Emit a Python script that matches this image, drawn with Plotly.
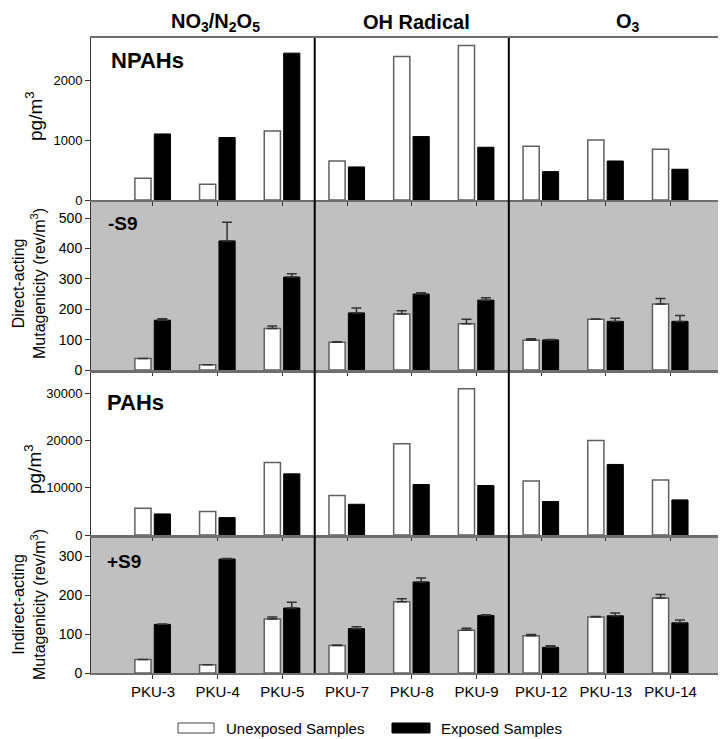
import numpy as np
import plotly.graph_objects as go

# ---------------- data ----------------
categories = ["PKU-3", "PKU-4", "PKU-5", "PKU-7", "PKU-8", "PKU-9", "PKU-12", "PKU-13", "PKU-14"]
groups = ["NO<sub>3</sub>/N<sub>2</sub>O<sub>5</sub>", "OH Radical", "O<sub>3</sub>"]

npah_unexposed = [365, 264, 1160, 655, 2410, 2595, 902, 1008, 852]
npah_exposed = [1109, 1049, 2466, 555, 1065, 886, 477, 655, 516]

direct_unexposed = [38, 17, 137, 91, 184, 152, 98, 167, 217]
direct_unexposed_err = [0, 0, 8, 2, 11, 15, 5, 1, 18]
direct_exposed = [164, 425, 306, 188, 250, 230, 99, 160, 160]
direct_exposed_err = [5, 61, 11, 16, 4, 8, 1, 10, 19]

pah_unexposed = [5680, 4980, 15400, 8380, 19360, 31060, 11490, 20090, 11700]
pah_exposed = [4470, 3700, 12980, 6530, 10720, 10510, 7100, 14980, 7450]

indirect_unexposed = [35, 21, 139, 71, 183, 110, 96, 144, 193]
indirect_unexposed_err = [0, 0, 5, 1, 8, 5, 3, 1, 9]
indirect_exposed = [125, 293, 167, 114, 234, 148, 66, 147, 129]
indirect_exposed_err = [1, 1, 15, 5, 10, 2, 4, 7, 7]

npah_ticks = [0, 1000, 2000]
direct_ticks = [0, 100, 200, 300, 400, 500]
pah_ticks = [0, 10000, 20000, 30000]
indirect_ticks = [0, 100, 200, 300]

series_names = ["Unexposed Samples", "Exposed Samples"]

# ---------------- layout helpers ----------------
W, H = 726, 739
L, R, T, B = 83, 723, 30, 665  # plot area in pixels
PH = B - T


def py(p):  # pixel y -> paper y
    return (B - p) / PH


def px(p):  # pixel x -> paper x
    return (p - L) / (R - L)


FONT = "Liberation Sans, Arial, sans-serif"
NARROW = "Liberation Sans Narrow, Arial Narrow, Liberation Sans, Arial, sans-serif"

idx = np.arange(len(categories))
xw = idx - 0.155
xb = idx + 0.145
BW = 0.25

panels = [
    dict(u=npah_unexposed, e=npah_exposed, ue=None, ee=None, dom=(py(192), py(30)), rng=[0, 2720],
         tv=npah_ticks, font=NARROW, tfs=13),
    dict(u=direct_unexposed, e=direct_exposed, ue=direct_unexposed_err, ee=direct_exposed_err,
         dom=(py(362), py(194)), rng=[0, 553], tv=direct_ticks, font=FONT, tfs=14),
    dict(u=pah_unexposed, e=pah_exposed, ue=None, ee=None, dom=(py(527), py(365)), rng=[0, 34400],
         tv=pah_ticks, font=NARROW, tfs=13),
    dict(u=indirect_unexposed, e=indirect_exposed, ue=indirect_unexposed_err, ee=indirect_exposed_err,
         dom=(py(665), py(530)), rng=[0, 347], tv=indirect_ticks, font=FONT, tfs=14),
]

fig = go.Figure()
layout = dict(
    width=W, height=H,
    margin=dict(l=L, r=W - R, t=T, b=H - B),
    plot_bgcolor="white", paper_bgcolor="white",
    barmode="overlay", showlegend=False,
    font=dict(family=FONT, color="black", size=14),
)
shapes = []
annotations = []

for k, p in enumerate(panels):
    n = k + 1
    xa = "x" if n == 1 else f"x{n}"
    ya = "y" if n == 1 else f"y{n}"

    def err(e):
        if e is None:
            return None
        return dict(type="data", symmetric=False, array=e, arrayminus=[0] * len(e),
                    color="#333333", thickness=1.5, width=5)

    fig.add_trace(go.Bar(x=xw, y=p["u"], width=BW, xaxis=xa, yaxis=ya, name=series_names[0],
                         marker=dict(color="white", line=dict(color="#606060", width=1.5)),
                         error_y=err(p["ue"])))
    fig.add_trace(go.Bar(x=xb, y=p["e"], width=BW, xaxis=xa, yaxis=ya, name=series_names[1],
                         marker=dict(color="black", line=dict(color="black", width=1)),
                         error_y=err(p["ee"])))
    xkey = "xaxis" if n == 1 else f"xaxis{n}"
    ykey = "yaxis" if n == 1 else f"yaxis{n}"
    layout[xkey] = dict(
        domain=[0, 1], anchor=ya, range=[-0.958, 8.934],
        tickmode="array", tickvals=idx, ticktext=categories,
        showticklabels=(n == 4), ticks="outside", ticklen=4, tickcolor="#333",
        showline=True, mirror=True, linecolor="#6e6e6e", linewidth=2,
        showgrid=False, zeroline=False,
        tickfont=dict(family=FONT, size=15, color="black"),
    )
    if n > 1:
        layout[xkey]["matches"] = "x"
    layout[ykey] = dict(
        domain=list(p["dom"]), anchor=xa, range=p["rng"],
        tickmode="array", tickvals=p["tv"], ticktext=[str(v) for v in p["tv"]],
        ticks="outside", ticklen=5, tickcolor="#333",
        showline=True, mirror=True, linecolor="#333333", linewidth=1,
        showgrid=False, zeroline=False,
        tickfont=dict(family=p["font"], size=p["tfs"], color="black"),
    )
    if n in (2, 4):
        shapes.append(dict(type="rect", xref=f"{xa} domain", yref=f"{ya} domain",
                           x0=0, x1=1, y0=0, y1=1, fillcolor="#c0c0c0",
                           line=dict(width=0), layer="below"))

# dividers between the three oxidant groups
for xd in (2.5, 5.5):
    shapes.append(dict(type="line", xref="x", yref="paper", x0=xd, x1=xd, y0=0, y1=1,
                       line=dict(color="black", width=2)))

# group titles
for g, cx in zip(groups, (207, 408, 620)):
    annotations.append(dict(text=f"<b>{g}</b>", xref="paper", yref="paper", x=px(cx), y=py(14),
                            xanchor="center", yanchor="middle", showarrow=False,
                            font=dict(family=NARROW, size=20, color="black")))

# panel labels
for txt, lx, ly, fam, fs in [("NPAHs", 101, 53, NARROW, 22), ("-S9", 98, 216, FONT, 19),
                             ("PAHs", 97, 394, NARROW, 22), ("+S9", 97, 553, FONT, 19)]:
    annotations.append(dict(text=f"<b>{txt}</b>", xref="paper", yref="paper", x=px(lx), y=py(ly),
                            xanchor="left", yanchor="middle", showarrow=False,
                            font=dict(family=fam, size=fs, color="black")))

# y-axis titles
for txt, cx, cy, fs in [("pg/m<sup>3</sup>", 26, 108, 19),
                        ("Direct-acting<br>Mutagenicity (rev/m<sup>3</sup>)", 21, 276, 16),
                        ("pg/m<sup>3</sup>", 25, 461, 19),
                        ("Indirect-acting<br>Mutagenicity (rev/m<sup>3</sup>)", 21, 597, 16)]:
    annotations.append(dict(text=txt, xref="paper", yref="paper", x=px(cx), y=py(cy),
                            xanchor="center", yanchor="middle", showarrow=False, textangle=-90,
                            font=dict(family=FONT, size=fs, color="black")))

# legend (drawn manually to keep the wide rectangular swatches)
LC = 720
for (x0, x1, fill, lc), (tx, name) in zip([(170, 206, "white", "#444"), (384, 422, "black", "black")],
                                         [(216, series_names[0]), (431, series_names[1])]):
    shapes.append(dict(type="rect", xref="paper", yref="paper", x0=px(x0), x1=px(x1),
                       y0=py(LC + 5), y1=py(LC - 5), fillcolor=fill, line=dict(color=lc, width=1)))
    annotations.append(dict(text=name, xref="paper", yref="paper", x=px(tx), y=py(LC),
                            xanchor="left", yanchor="middle", showarrow=False,
                            font=dict(family=FONT, size=15, color="black")))

layout["shapes"] = shapes
layout["annotations"] = annotations
fig.update_layout(**layout)
fig.write_html("out.html")
